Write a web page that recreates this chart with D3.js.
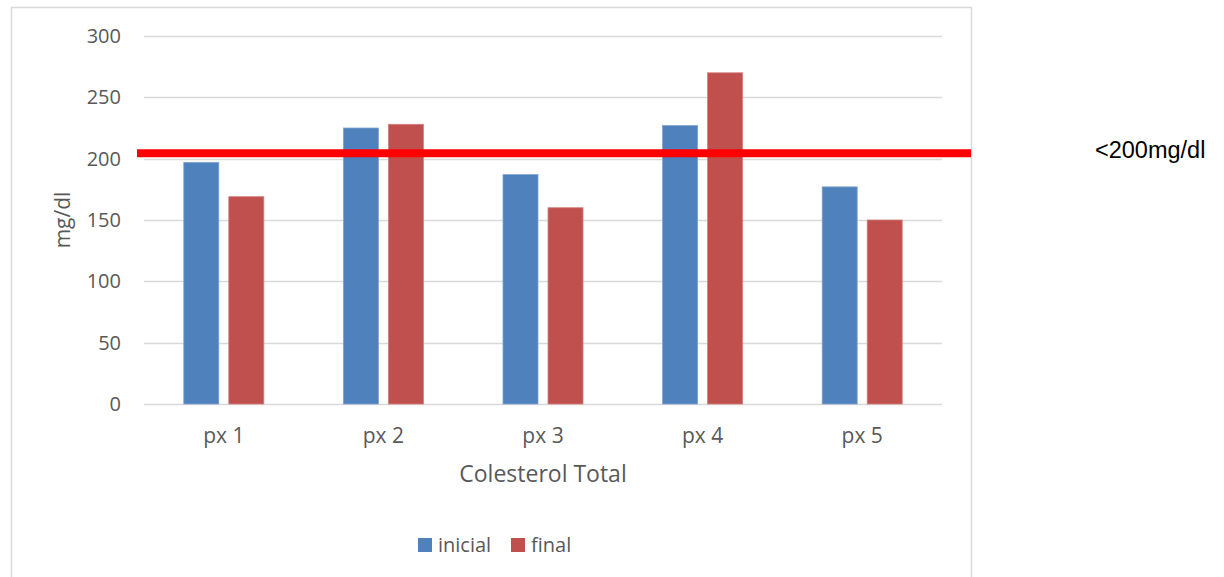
<!DOCTYPE html>
<html><head><meta charset="utf-8">
<script src="https://cdn.jsdelivr.net/npm/d3@7"></script>
<style>body{margin:0;background:#fff;}svg{display:block;}</style>
</head><body>
<script>
const categories = ["px 1","px 2","px 3","px 4","px 5"];
const seriesNames = ["inicial","final"];
const inicial = [197, 225, 187, 227, 177];
const finalV = [169, 228, 160, 270, 150];
const yTicks = [0, 50, 100, 150, 200, 250, 300];
const thresholdValue = 204.5;
const thresholdLabel = "<200mg/dl";
const colors = ["#4F81BD", "#C0504D"];

(function(){
const W = 1224, H = 577;
const svg = d3.select("body").append("svg").attr("width", W).attr("height", H);
const font = "'Open Sans', sans-serif";
const txt = "#595959";

svg.append("rect").attr("x", 11.5).attr("y", 7.5).attr("width", 960).attr("height", 600)
  .attr("fill", "#fff").attr("stroke", "#d9d9d9").attr("stroke-width", 1.5);

const pL = 144, pR = 942, pT = 36, pB = 404;
const y = d3.scaleLinear().domain([0, 300]).range([pB, pT]);
const x0 = d3.scaleBand().domain(categories).range([pL, pR]).padding(0);
const x1 = d3.scaleBand().domain(seriesNames).range([0, x0.bandwidth()])
  .paddingInner(0.222).paddingOuter(0.884);

svg.append("g").selectAll("line").data(yTicks).join("line")
  .attr("x1", pL).attr("x2", pR)
  .attr("y1", d => Math.round(y(d)) + 0.5).attr("y2", d => Math.round(y(d)) + 0.5)
  .attr("stroke", "#d9d9d9").attr("stroke-width", 1.5);

svg.append("g").selectAll("text").data(yTicks).join("text")
  .attr("x", 121).attr("y", d => y(d)).attr("dy", "0.35em")
  .attr("text-anchor", "end").attr("font-family", font).attr("font-size", 20)
  .attr("fill", txt).text(d => d);

const data = categories.map((c, i) => ({c, vals: [inicial[i], finalV[i]]}));
const g = svg.append("g");
data.forEach(d => {
  d.vals.forEach((v, j) => {
    g.append("rect")
      .attr("x", x0(d.c) + x1(seriesNames[j]))
      .attr("y", y(v))
      .attr("width", x1.bandwidth())
      .attr("height", y(0) - y(v))
      .attr("fill", colors[j])
      .attr("stroke", j === 0 ? "#7fa3d1" : "#d27f7c").attr("stroke-width", 0.8);
  });
});

svg.append("g").selectAll("text").data(categories).join("text")
  .attr("x", d => x0(d) + x0.bandwidth() / 2).attr("y", 443)
  .attr("text-anchor", "middle").attr("font-family", font).attr("font-size", 21)
  .attr("fill", txt).text(d => d);

svg.append("text").attr("x", (pL + pR) / 2).attr("y", 482)
  .attr("text-anchor", "middle").attr("font-family", font).attr("font-size", 23)
  .attr("fill", txt).text("Colesterol Total");
svg.append("text").attr("transform", `translate(70,${(pT + pB) / 2}) rotate(-90)`)
  .attr("text-anchor", "middle").attr("font-family", font).attr("font-size", 21)
  .attr("fill", txt).text("mg/dl");

svg.append("line").attr("x1", 137).attr("x2", 971)
  .attr("y1", y(thresholdValue)).attr("y2", y(thresholdValue))
  .attr("stroke", "#FF0000").attr("stroke-width", 8);
svg.append("text").attr("x", 1095).attr("y", 158)
  .attr("font-family", "'Liberation Sans', Arial, sans-serif").attr("font-size", 23.5)
  .attr("fill", "#000").text(thresholdLabel);

const lg = svg.append("g");
const legX = [418, 511];
seriesNames.forEach((s, j) => {
  lg.append("rect").attr("x", legX[j]).attr("y", 538).attr("width", 14).attr("height", 14).attr("fill", colors[j]);
  lg.append("text").attr("x", legX[j] + 20).attr("y", 545).attr("dy", "0.35em")
    .attr("font-family", font).attr("font-size", 20).attr("fill", txt).text(s);
});
})();
</script>
</body></html>
